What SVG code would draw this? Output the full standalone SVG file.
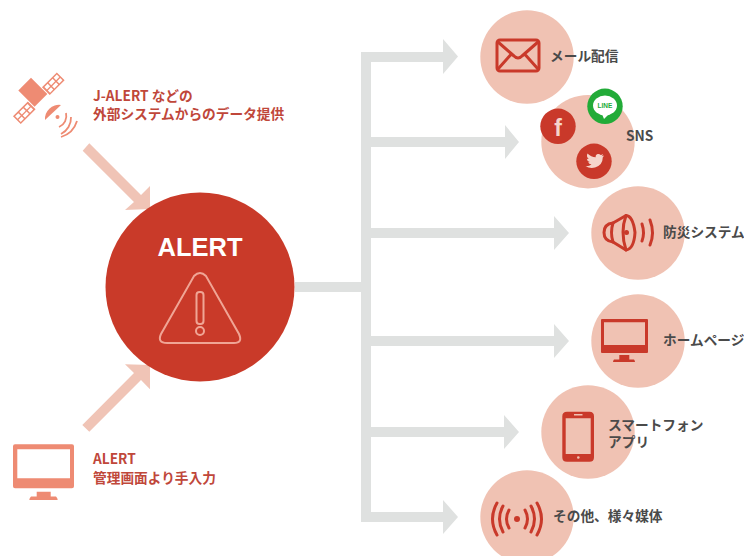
<svg xmlns="http://www.w3.org/2000/svg" width="744" height="556" viewBox="0 0 744 556">
<style>
.lbl{font-family:"Noto Sans CJK JP","Noto Sans",sans-serif;font-weight:700;font-size:13.7px}
.red{fill:#c0473a}.dark{fill:#4a4a4a}
.disc{fill:#f0c2b3}
.ic{fill:none;stroke:#c9392a;stroke-width:3;stroke-linecap:round;stroke-linejoin:round}
.icf{fill:#c9392a}
.sol{fill:#ee8b73}
.pk{fill:#f0c4b6}
.gr{fill:#dfe1e0}
</style>
<rect width="744" height="556" fill="#fff"/>
<g id="connectors">
<g class="gr">
<rect x="295" y="282" width="66" height="10"/>
<rect x="361" y="52" width="10" height="470"/>
<path d="M371 52H443V39L458 56.500L443 74V62H371Z"/>
<path d="M371 137H505V125L519 142L505 159V147H371Z"/>
<path d="M371 228H554V216L569 233L554 250V238H371Z"/>
<path d="M371 336H554V324L569 341L554 358V346H371Z"/>
<path d="M371 427H504V415L519 432L504 449V437H371Z"/>
<path d="M371 512H443V500L458 517L443 534V522H371Z"/>
</g>
<path class="pk" d="M82.700 150.700L89.300 143.300L141 195L150 186V209L125 210L134 202Z"/>
<path class="pk" d="M82.300 425L89.300 431.700L141 380L150 389.300V365L125 364.300L134 373Z"/>
</g>
<g id="node-alert">
<circle cx="200" cy="287" r="94.500" fill="#c93a29"/>
<text x="200" y="256" text-anchor="middle" font-family="Liberation Sans,Arial,sans-serif" font-weight="700" font-size="25.500" fill="#fff">ALERT</text>
<path d="M194 276Q200 270 206 276L239 334Q243 343 234 343H167Q157 343 161 334Z" fill="none" stroke="#f0a595" stroke-width="2"/>
<rect x="196.500" y="292" width="7" height="32" rx="3" fill="none" stroke="#f0a595" stroke-width="2"/>
<circle cx="200" cy="331" r="4" fill="none" stroke="#f0a595" stroke-width="2"/>
</g>
<g id="node-jalert">
<g transform="translate(38.800 98.300) rotate(-45)" class="sol">
<path fill-rule="evenodd" d="M10 -5.500H31V5.500H10ZM12 -4V-.5H16.500V-4ZM18 -4V-.5H23.500V-4ZM25 -4V-.5H29.500V-4ZM12 .8V4H16.500V.8ZM18 .8V4H23.500V.8ZM25 .8V4H29.500V.8Z"/>
<path fill-rule="evenodd" d="M-31 -5.500H-10V5.500H-31ZM-29.500 -4V-.5H-25V-4ZM-23.500 -4V-.5H-18V-4ZM-16.500 -4V-.5H-12V-4ZM-29.500 .8V4H-25V.8ZM-23.500 .8V4H-18V.8ZM-16.500 .8V4H-12V.8Z"/>
<rect x="-9" y="-20" width="18" height="23"/>
</g>
<path class="sol" d="M61 105A14 14 0 0 0 45 120Z"/>
<circle class="sol" cx="57.500" cy="117" r="2"/>
<g fill="none" stroke="#ee8b73" stroke-width="1.800">
<path d="M66 113A12 12 0 0 1 59 127"/>
<path d="M71 117A18 18 0 0 1 61 134"/>
<path d="M77 121A24 24 0 0 1 61 137"/>
</g>
<text class="lbl red" x="93" y="101">J-ALERT などの</text>
<text class="lbl red" x="93" y="119">外部システムからのデータ提供</text>
</g>
<g id="node-manual">
<path class="sol" fill-rule="evenodd" d="M15 444.300H72Q74 444.300 74 446.300V486.300Q74 488.300 72 488.300H15Q13 488.300 13 486.300V446.300Q13 444.300 15 444.300ZM17.300 449.300V478.300H70V449.300Z"/>
<path class="sol" d="M36.700 491.700H50.700V496.500H56Q57.700 498 57.700 500H29.300Q29.300 498 31 496.500H36.700Z"/>
<text class="lbl red" x="93" y="464">ALERT</text>
<text class="lbl red" x="93" y="482.500">管理画面より手入力</text>
</g>
<g id="node-mail">
<circle class="disc" cx="527" cy="57" r="46.700"/>
<rect class="ic" x="497" y="40" width="42" height="31" rx="3"/>
<path class="ic" d="M498 42L514 56Q518 60 522 56L538 42M498 69L510.500 55M538 69L525.500 55"/>
<text class="lbl dark" x="550" y="61">メール配信</text>
</g>
<g id="node-sns">
<circle class="disc" cx="588" cy="141.700" r="46.700"/>
<circle class="icf" cx="558" cy="126.300" r="17.700"/>
<text x="558" y="135.500" text-anchor="middle" font-family="Liberation Sans,Arial,sans-serif" font-weight="700" font-size="23" fill="#f6d5cb">f</text>
<circle cx="605" cy="106.300" r="17.700" fill="#22ab38"/>
<ellipse cx="605" cy="105.500" rx="12" ry="10" fill="#fff"/>
<path d="M602 114L604 119L609 114Z" fill="#fff"/>
<text x="605" y="108" text-anchor="middle" font-family="Liberation Sans,Arial,sans-serif" font-weight="700" font-size="6.500" fill="#22ab38">LINE</text>
<circle class="icf" cx="594" cy="161.300" r="17.700"/>
<path fill="#f6d5cb" d="M604 155.500Q602.500 156.300 601.500 156.300Q603 155.300 603 154Q601.800 154.800 600.700 155Q599.500 153.700 597.700 154Q595.300 154.700 595.700 157.300Q591 157 587.500 153.500Q586 156.500 588.700 159Q587.500 159 586.800 158.500Q587 161.300 589.700 162Q588.700 162.300 588 162.100Q589 164.300 591.500 164.500Q589 166.500 585.500 166.200Q590 168.800 595 167.500Q602.700 165.300 602.800 157.300Q603.500 156.700 604 155.500Z"/>
<text class="lbl dark" x="626" y="141">SNS</text>
</g>
<g id="node-bousai">
<circle class="disc" cx="638" cy="233" r="46.700"/>
<path class="ic" d="M613 223L626 215.500Q633 216 635 232.500Q634 249 626 250L613 242Q604 241 604 232.500Q604 224 613 223Z"/>
<path class="ic" d="M613 223Q610 232.500 613 242M626 215.500Q620 232 626 250"/>
<circle class="icf" cx="626.500" cy="232.500" r="2.500"/>
<path class="ic" d="M642 224Q645 233 642 241M650 220Q655 233 650 245"/>
<text class="lbl dark" x="663" y="237">防災システム</text>
</g>
<g id="node-home">
<circle class="disc" cx="638" cy="341" r="46.700"/>
<path class="icf" fill-rule="evenodd" d="M602 319H647Q648 319 648 320V352Q648 353 647 353H602Q601 353 601 352V320Q601 319 602 319ZM604 322.300V345H645V322.300Z"/>
<path class="icf" d="M619.300 355H629.300V359.500H634Q635 360.500 635 362H613Q613 360.500 614 359.500H619.300Z"/>
<text class="lbl dark" x="663" y="345">ホームページ</text>
</g>
<g id="node-phone">
<circle class="disc" cx="588" cy="432" r="46.700"/>
<path class="icf" fill-rule="evenodd" d="M567 411.700H589.500Q594 411.700 594 416.200V457.200Q594 461.700 589.500 461.700H567Q562.300 461.700 562.300 457.200V416.200Q562.300 411.700 567 411.700ZM565.700 418.300V454H590.700V418.300Z"/>
<rect x="574" y="414" width="8.500" height="1.500" fill="#f0c2b3"/>
<circle cx="578.300" cy="457.500" r="1.300" fill="#f0c2b3"/>
<text class="lbl dark" x="608" y="430">スマートフォン</text>
<text class="lbl dark" x="608" y="447">アプリ</text>
</g>
<g id="node-other">
<circle class="disc" cx="527" cy="517" r="46.700"/>
<circle class="icf" cx="517" cy="519" r="3"/>
<path class="ic" d="M509 510Q504 519 509 528M525 510Q530 519 525 528M503 506Q496 519 503 532M531 506Q538 519 531 532M497 503Q488 519 497 535M537 503Q546 519 537 535"/>
<text class="lbl dark" x="553" y="521">その他、様々媒体</text>
</g>
</svg>
